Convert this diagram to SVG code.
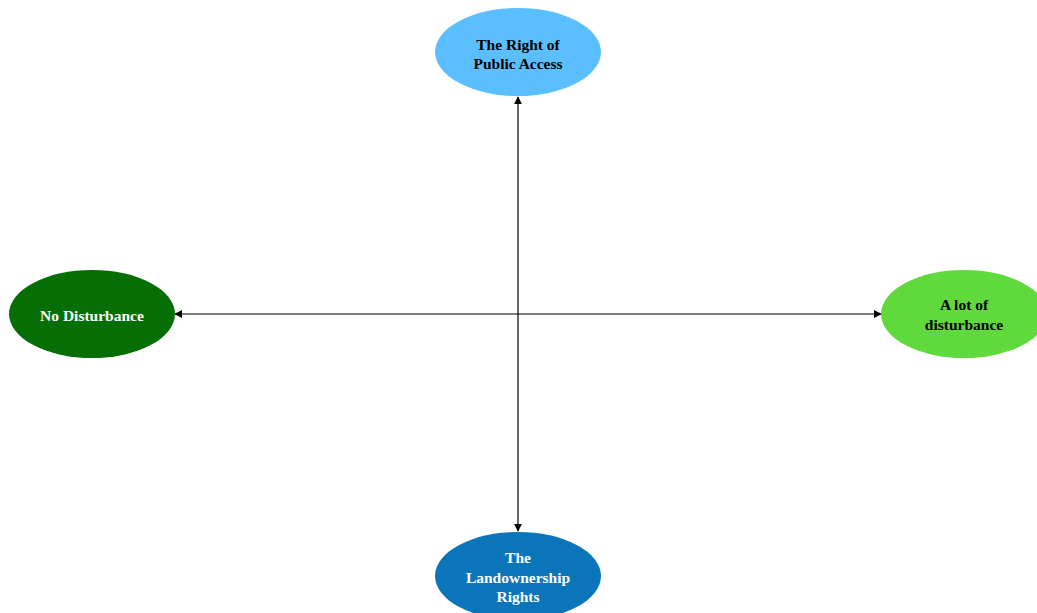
<svg xmlns="http://www.w3.org/2000/svg" width="1037" height="613" viewBox="0 0 1037 613">
<style>
text{font-family:"Liberation Serif","Times New Roman",serif;font-weight:bold;font-size:15.5px;text-anchor:middle;dominant-baseline:central}
.dark{fill:#000}
.light{fill:#fff}
.conn{stroke:#000;stroke-width:1.2;fill:none}
</style>
<defs>
<marker id="ah" viewBox="0 0 10 10" refX="9" refY="5" markerWidth="8" markerHeight="8" markerUnits="userSpaceOnUse" orient="auto-start-reverse">
<path d="M0,0 L10,5 L0,10 z" fill="#000"/>
</marker>
</defs>
<rect width="1037" height="613" fill="#fff"/>
<g id="connectors">
<line class="conn" x1="518" y1="97" x2="518" y2="531" marker-start="url(#ah)" marker-end="url(#ah)"/>
<line class="conn" x1="175" y1="314" x2="881" y2="314" marker-start="url(#ah)" marker-end="url(#ah)"/>
</g>
<g id="public-access">
<ellipse cx="518" cy="52" rx="83" ry="44" fill="#5bbfff"/>
<text class="dark" x="518" y="44">The Right of</text>
<text class="dark" x="518" y="63">Public Access</text>
</g>
<g id="landownership">
<ellipse cx="518" cy="576" rx="83" ry="44" fill="#0a75b9"/>
<text class="light" x="518" y="557">The</text>
<text class="light" x="518" y="577">Landownership</text>
<text class="light" x="518" y="596">Rights</text>
</g>
<g id="no-disturbance">
<ellipse cx="92" cy="314" rx="83" ry="44" fill="#056e05"/>
<text class="light" x="92" y="315">No Disturbance</text>
</g>
<g id="lot-disturbance">
<ellipse cx="964" cy="314" rx="83" ry="44" fill="#60d93c"/>
<text class="dark" x="964" y="304">A lot of</text>
<text class="dark" x="964" y="324">disturbance</text>
</g>
</svg>
